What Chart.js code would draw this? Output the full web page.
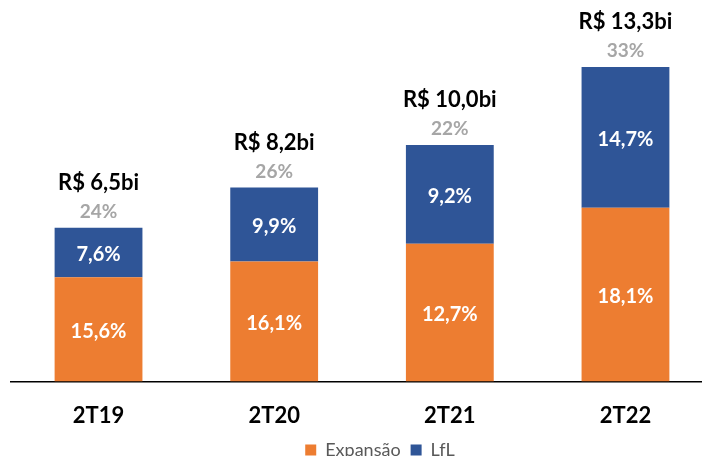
<!DOCTYPE html>
<html>
<head>
<meta charset="utf-8">
<script src="https://cdn.jsdelivr.net/npm/chart.js@4.4.1/dist/chart.umd.min.js"></script>
<style>
  html, body { margin: 0; padding: 0; background: #fff; overflow: hidden; }
  #wrap { position: relative; width: 724px; height: 488px; }
</style>
</head>
<body>
<div id="wrap"><canvas id="receita-chart"></canvas></div>
<script>
var periodos = ["2T19", "2T20", "2T21", "2T22"];
var expansao = [4.41, 5.08, 5.83, 7.35];
var lfl = [2.09, 3.12, 4.17, 5.95];

// rótulos do gráfico
var expansaoPct = ["15,6%", "16,1%", "12,7%", "18,1%"];
var lflPct = ["7,6%", "9,9%", "9,2%", "14,7%"];
var crescimento = ["24%", "26%", "22%", "33%"];
var totais = ["R$ 6,5bi", "R$ 8,2bi", "R$ 10,0bi", "R$ 13,3bi"];

var fonte = "Lato, 'Open Sans', sans-serif";

var rotulos = {
    id: "rotulos",
    afterDatasetsDraw: function (chart) {
        var ctx = chart.ctx;
        ctx.save();
        ctx.textAlign = "center";
        ctx.textBaseline = "middle";
        var textos = [expansaoPct, lflPct];
        for (var d = 0; d < 2; d++) {
            var meta = chart.getDatasetMeta(d);
            meta.data.forEach(function (bar, i) {
                ctx.fillStyle = "#ffffff";
                ctx.font = "bold 20px " + fonte;
                ctx.fillText(textos[d][i], bar.x, (bar.y + bar.base) / 2 + 2);
            });
        }
        var topo = chart.getDatasetMeta(1).data;
        topo.forEach(function (bar, i) {
            ctx.fillStyle = "#a6a6a6";
            ctx.font = "bold 19px " + fonte;
            ctx.fillText(crescimento[i], bar.x, bar.y - 16);
            ctx.fillStyle = "#000000";
            ctx.font = "bold 22px " + fonte;
            ctx.fillText(totais[i], bar.x, bar.y - 45);
        });
        ctx.restore();
    }
};

// legenda deslocada como no original
var moveLegenda = {
    id: "moveLegenda",
    afterLayout: function (chart) {
        var lg = chart.legend;
        var dy = 450 - (lg.top + lg.bottom) / 2;
        lg.left += 18;
        lg.right += 18;
        lg.top += dy;
        lg.bottom += dy;
    }
};

var ctx = document.getElementById("receita-chart");

var myChart = new Chart(ctx, {
    type: "bar",
    data: {
        labels: periodos,
        datasets: [{
            label: "Expansão",
            data: expansao,
            backgroundColor: "#ED7D31"
        }, {
            label: "LfL",
            data: lfl,
            backgroundColor: "#2F5597"
        }]
    },
    options: {
        responsive: true,
        maintainAspectRatio: false,
        animation: false,
        layout: { padding: { left: 10.7, right: 10.7, top: 3, bottom: 0 } },
        datasets: { bar: { categoryPercentage: 1, barPercentage: 0.5 } },
        scales: {
            x: {
                stacked: true,
                grid: { display: false, drawTicks: false },
                border: { display: true, color: "#000000", width: 1.5 },
                ticks: {
                    color: "#000000",
                    padding: 21,
                    font: { family: fonte, size: 22, weight: "bold" }
                }
            },
            y: {
                stacked: true,
                display: false,
                min: 0,
                max: 16
            }
        },
        plugins: {
            tooltip: { enabled: false },
            legend: {
                display: true,
                position: "bottom",
                labels: {
                    boxWidth: 11,
                    boxHeight: 11,
                    color: "#595959",
                    padding: 10,
                    font: { family: fonte, size: 18 }
                }
            }
        }
    },
    plugins: [rotulos, moveLegenda]
});
</script>
</body>
</html>
